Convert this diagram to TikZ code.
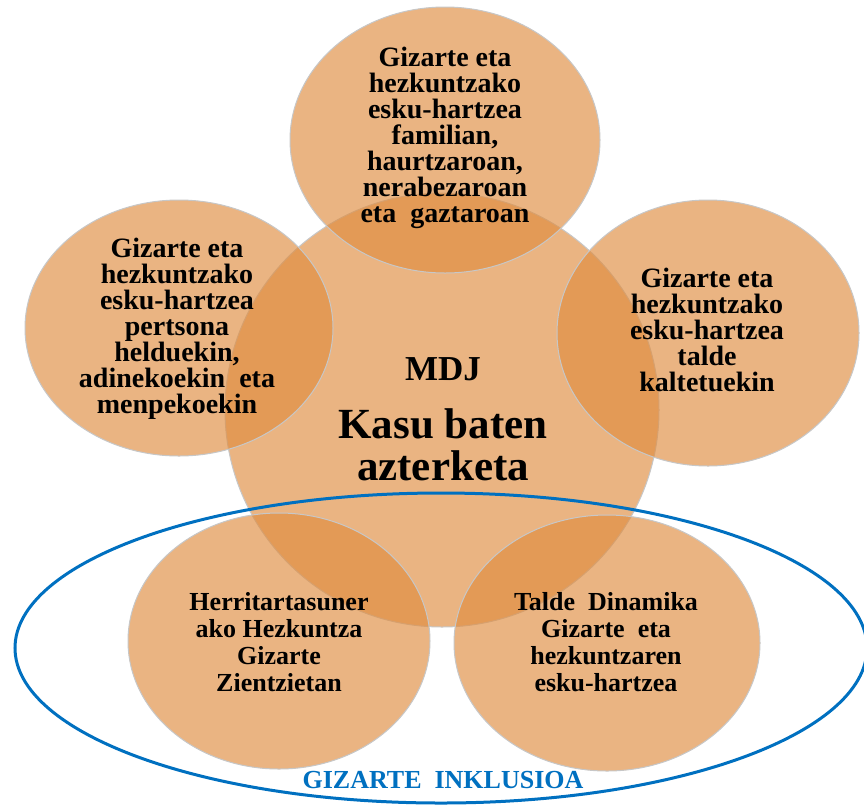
\documentclass[tikz,border=0pt]{standalone}
\usepackage{fontspec}
\setmainfont{Liberation Serif}
\usetikzlibrary{shapes.geometric}
\definecolor{cin}{RGB}{223,140,63}
\definecolor{cout}{RGB}{204,101,17}
\definecolor{incblue}{RGB}{0,112,192}
\pgfdeclareradialshading{rimglow}{\pgfpoint{0bp}{0bp}}{color(0bp)=(cin); color(34bp)=(cin); color(49bp)=(cout); color(50bp)=(cout)}
\tikzset{
  bubble/.style={ellipse, inner sep=0pt, shading=rimglow, fill opacity=0.65, draw=black!22, line width=1pt},
  txt/.style={align=center, text=black, font=\bfseries\fontsize{28}{26}\selectfont},
  txtb/.style={align=center, text=black, font=\bfseries\fontsize{26}{27}\selectfont},
  incl/.style={ellipse, draw=incblue, line width=3pt, inner sep=0pt},
  incllabel/.style={text=incblue, fill=white, inner sep=1pt, font=\bfseries\fontsize{26}{26}\selectfont}
}
\begin{document}
\begin{tikzpicture}[x=1pt,y=-1pt]
\useasboundingbox (0,0) rectangle (864,804);
% bubbles
\node[bubble, minimum width=434, minimum height=434] (mdj) at (442,410) {};
\node[bubble, minimum width=310, minimum height=266] (top) at (445,140) {};
\node[bubble, minimum width=308, minimum height=256] (left) at (179,328) {};
\node[bubble, minimum width=302, minimum height=266] (right) at (708,333) {};
\node[bubble, minimum width=302, minimum height=256] (bl) at (279,641) {};
\node[bubble, minimum width=306, minimum height=256] (br) at (607,643) {};
% inclusion ellipse
\node[incl, minimum width=852, minimum height=310] (inc) at (441,648) {};
% texts
\node[txt] (ttop) at (445,138) {Gizarte eta\\hezkuntzako\\esku-hartzea\\familian,\\haurtzaroan,\\nerabezaroan\\eta~~gaztaroan};
\node[txt] (tleft) at (177,329) {Gizarte eta\\hezkuntzako\\esku-hartzea\\pertsona\\helduekin,\\adinekoekin~~eta\\menpekoekin};
\node[txt] (tright) at (707,330) {Gizarte eta\\hezkuntzako\\esku-hartzea\\talde\\kaltetuekin};
\node[font=\bfseries\fontsize{35}{35}\selectfont] (tmdj) at (443,369) {MDJ};
\node[align=center, font=\bfseries\fontsize{43}{42}\selectfont] (tkasu) at (443,445) {Kasu baten\\azterketa};
\node[txtb] (tbl) at (279,642) {Herritartasuner\\ako Hezkuntza\\Gizarte\\Zientzietan};
\node[txtb] (tbr) at (606,642) {Talde~~Dinamika\\Gizarte~~eta\\hezkuntzaren\\esku-hartzea};
\node[incllabel] (tinc) at (443,780) {GIZARTE~~INKLUSIOA};
\end{tikzpicture}
\end{document}
